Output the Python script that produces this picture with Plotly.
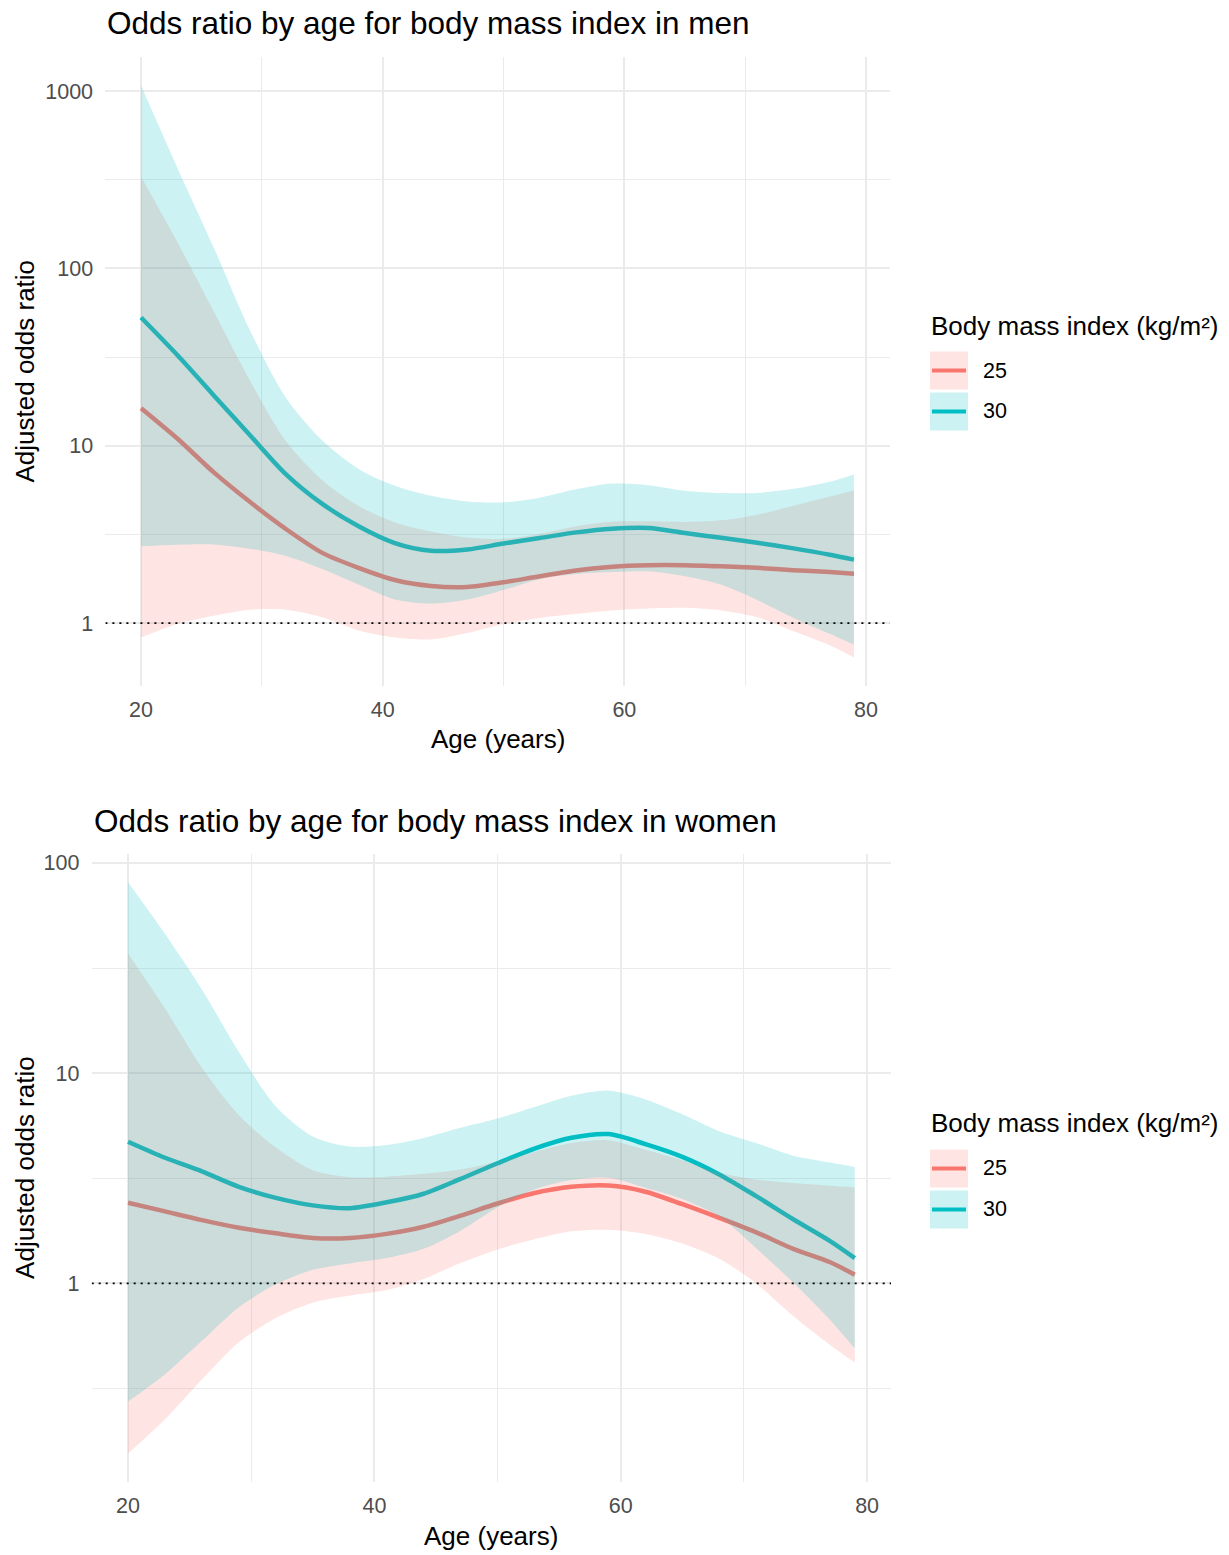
import math
import plotly.graph_objects as go

W, H = 1229, 1555
FONT = "Liberation Sans, Arial, sans-serif"

# ---- data -------------------------------------------------------------
AGES = [20, 23, 26, 29, 32, 35, 38, 41, 44, 47, 50, 53, 56, 59, 62, 65, 68, 71, 74, 77, 79]

BMI_LEVELS = ["25", "30"]

MEN_BMI25_OR = [16.3, 11.0, 7.1, 4.83, 3.39, 2.49, 2.05, 1.75, 1.62, 1.60, 1.70,
                1.84, 1.98, 2.08, 2.12, 2.12, 2.09, 2.05, 1.99, 1.94, 1.90]
MEN_BMI25_LO = [0.83, 0.99, 1.10, 1.19, 1.19, 1.08, 0.91, 0.83, 0.81, 0.88, 0.99,
                1.07, 1.13, 1.18, 1.21, 1.22, 1.18, 1.08, 0.90, 0.75, 0.64]
MEN_BMI25_HI = [329, 141, 57.5, 23.4, 10.6, 6.4, 4.58, 3.70, 3.29, 3.04, 2.99,
                3.18, 3.52, 3.73, 3.75, 3.72, 3.80, 4.09, 4.59, 5.17, 5.62]
MEN_BMI30_OR = [52.9, 32.5, 19.3, 11.5, 6.9, 4.7, 3.52, 2.83, 2.56, 2.60, 2.81,
                3.02, 3.25, 3.41, 3.44, 3.22, 3.03, 2.84, 2.64, 2.43, 2.28]
MEN_BMI30_LO = [2.72, 2.77, 2.78, 2.63, 2.39, 2.02, 1.65, 1.36, 1.29, 1.36, 1.54,
                1.77, 1.89, 1.94, 1.96, 1.84, 1.65, 1.35, 1.07, 0.87, 0.755]
MEN_BMI30_HI = [1075, 370, 132, 45, 18.6, 10.7, 7.4, 5.95, 5.22, 4.85, 4.8,
                5.1, 5.68, 6.12, 6.0, 5.58, 5.41, 5.42, 5.72, 6.27, 6.89]

WOMEN_BMI25_OR = [2.42, 2.20, 2.00, 1.84, 1.73, 1.645, 1.645, 1.72, 1.86, 2.10, 2.40,
                  2.69, 2.88, 2.92, 2.73, 2.38, 2.05, 1.75, 1.46, 1.26, 1.10]
WOMEN_BMI25_LO = [0.155, 0.226, 0.349, 0.525, 0.685, 0.81, 0.875, 0.93, 1.05, 1.25, 1.45,
                  1.62, 1.77, 1.80, 1.72, 1.55, 1.31, 1.00, 0.70, 0.51, 0.42]
WOMEN_BMI25_HI = [37.1, 20.3, 10.6, 6.3, 4.43, 3.45, 3.2, 3.22, 3.32, 3.48, 3.8,
                  4.22, 4.65, 4.8, 4.32, 3.85, 3.36, 3.12, 3.0, 2.91, 2.86]
WOMEN_BMI30_OR = [4.72, 3.96, 3.41, 2.88, 2.55, 2.35, 2.28, 2.43, 2.67, 3.14, 3.73,
                  4.38, 4.93, 5.13, 4.6, 4.0, 3.3, 2.6, 2.02, 1.59, 1.32]
WOMEN_BMI30_LO = [0.274, 0.370, 0.533, 0.77, 0.99, 1.16, 1.245, 1.32, 1.46, 1.78, 2.3,
                  2.8, 3.1, 3.18, 2.85, 2.52, 2.08, 1.47, 1.01, 0.67, 0.49]
WOMEN_BMI30_HI = [81, 46, 25, 12.6, 6.95, 5.0, 4.48, 4.55, 4.92, 5.5, 6.08,
                  6.9, 7.8, 8.26, 7.5, 6.38, 5.3, 4.65, 4.05, 3.76, 3.58]

X_TICKS = [20, 40, 60, 80]
X_MINOR = [30, 50, 70]
MEN_Y_TICKS = [1, 10, 100, 1000]
WOMEN_Y_TICKS = [1, 10, 100]

TITLE_MEN = "Odds ratio by age for body mass index in men"
TITLE_WOMEN = "Odds ratio by age for body mass index in women"
X_TITLE = "Age (years)"
Y_TITLE = "Adjusted odds ratio"
LEGEND_TITLE = "Body mass index (kg/m²)"

LINE_COLORS = {"25": "#F8766D", "30": "#00BFC4"}
FILL_COLORS = {"25": "rgba(248,118,109,0.2)", "30": "rgba(0,191,196,0.2)"}

# ---- helpers ----------------------------------------------------------
def px_x(p):
    return p / W


def px_y(p):
    return 1 - p / H


def padded_log_range(*series):
    vals = [math.log10(v) for s in series for v in s]
    lo, hi = min(vals), max(vals)
    pad = 0.05 * (hi - lo)
    return [lo - pad, hi + pad]


def padded_range(vals):
    lo, hi = min(vals), max(vals)
    pad = 0.05 * (hi - lo)
    return [lo - pad, hi + pad]


fig = go.Figure()

panels = [
    dict(xa="x", ya="y",
         series={"25": (MEN_BMI25_OR, MEN_BMI25_LO, MEN_BMI25_HI),
                 "30": (MEN_BMI30_OR, MEN_BMI30_LO, MEN_BMI30_HI)}),
    dict(xa="x2", ya="y2",
         series={"25": (WOMEN_BMI25_OR, WOMEN_BMI25_LO, WOMEN_BMI25_HI),
                 "30": (WOMEN_BMI30_OR, WOMEN_BMI30_LO, WOMEN_BMI30_HI)}),
]

x_range = padded_range(AGES)
SMOOTH = 0.8

for p in panels:
    # estimate lines first, confidence ribbons drawn over them
    for lvl in BMI_LEVELS:
        est = p["series"][lvl][0]
        fig.add_trace(go.Scatter(
            x=AGES, y=est, mode="lines", xaxis=p["xa"], yaxis=p["ya"],
            line=dict(color=LINE_COLORS[lvl], width=4.5, shape="spline", smoothing=SMOOTH),
            showlegend=False, hoverinfo="skip"))
    for lvl in BMI_LEVELS:
        _, lo, hi = p["series"][lvl]
        fig.add_trace(go.Scatter(
            x=AGES, y=lo, mode="lines", xaxis=p["xa"], yaxis=p["ya"],
            line=dict(width=0, shape="spline", smoothing=SMOOTH, color="rgba(0,0,0,0)"),
            showlegend=False, hoverinfo="skip"))
        fig.add_trace(go.Scatter(
            x=AGES, y=hi, mode="lines", xaxis=p["xa"], yaxis=p["ya"],
            fill="tonexty", fillcolor=FILL_COLORS[lvl],
            line=dict(width=0, shape="spline", smoothing=SMOOTH, color="rgba(0,0,0,0)"),
            showlegend=False, hoverinfo="skip"))
    # reference line at an odds ratio of 1
    fig.add_trace(go.Scatter(
        x=x_range, y=[1, 1], mode="lines", xaxis=p["xa"], yaxis=p["ya"],
        line=dict(color="black", width=1.6, dash="2px,5px"),
        showlegend=False, hoverinfo="skip"))

GRID = "#EBEBEB"
tick_font = dict(family=FONT, size=21.5, color="#4D4D4D")

common_x = dict(
    range=x_range, tickmode="array", tickvals=X_TICKS, ticktext=[str(t) for t in X_TICKS],
    showgrid=True, gridcolor=GRID, gridwidth=1.6, zeroline=False, showline=False,
    ticks="outside", ticklen=4, tickcolor="rgba(0,0,0,0)", tickfont=tick_font,
    minor=dict(tickmode="array", tickvals=X_MINOR, showgrid=True, gridcolor=GRID,
               gridwidth=1.2, ticks=""),
)


def y_axis(ticks, rng, domain, anchor):
    lo_dec = math.floor(rng[0])
    hi_dec = math.ceil(rng[1])
    minor_vals = [10 ** (d + 0.5) for d in range(lo_dec - 1, hi_dec + 1)]
    return dict(
        type="log", range=rng, domain=domain, anchor=anchor,
        tickmode="array", tickvals=ticks, ticktext=[str(t) for t in ticks],
        showgrid=True, gridcolor=GRID, gridwidth=1.6, zeroline=False, showline=False,
        ticks="outside", ticklen=7, tickcolor="rgba(0,0,0,0)", tickfont=tick_font,
        minor=dict(tickmode="array", tickvals=minor_vals, showgrid=True, gridcolor=GRID,
                   gridwidth=1.2, ticks=""),
    )


men_y_range = padded_log_range(MEN_BMI25_LO, MEN_BMI25_HI, MEN_BMI30_LO, MEN_BMI30_HI)
women_y_range = padded_log_range(WOMEN_BMI25_LO, WOMEN_BMI25_HI, WOMEN_BMI30_LO, WOMEN_BMI30_HI)

# panel boxes in pixels: (left, right, top, bottom)
TOP_BOX = (105.4, 889.6, 55, 685)
BOT_BOX = (91.7, 891.1, 852.7, 1482.1)

fig.update_layout(
    xaxis=dict(common_x, domain=[px_x(TOP_BOX[0]), px_x(TOP_BOX[1])], anchor="y"),
    yaxis=y_axis(MEN_Y_TICKS, men_y_range, [px_y(TOP_BOX[3]), px_y(TOP_BOX[2])], "x"),
    xaxis2=dict(common_x, domain=[px_x(BOT_BOX[0]), px_x(BOT_BOX[1])], anchor="y2"),
    yaxis2=y_axis(WOMEN_Y_TICKS, women_y_range, [px_y(BOT_BOX[3]), px_y(BOT_BOX[2])], "x2"),
)

annotations = []
shapes = []


def text(label, x, y, size, color="black", xanchor="left", angle=0):
    annotations.append(dict(
        text=label, x=px_x(x), y=px_y(y), xref="paper", yref="paper",
        xanchor=xanchor, yanchor="middle", showarrow=False, textangle=angle,
        font=dict(family=FONT, size=size, color=color)))


def panel_text(box, title, title_y, xlab_y):
    left, right, top, bottom = box
    text(title, left, title_y, 31.5)
    text(X_TITLE, (left + right) / 2, xlab_y, 26, xanchor="center")
    text(Y_TITLE, 25, (top + bottom) / 2, 26, xanchor="center", angle=-90)


def legend(title_y, key_centers):
    text(LEGEND_TITLE, 929, title_y, 26)
    for lvl, cy in zip(BMI_LEVELS, key_centers):
        shapes.append(dict(type="rect", xref="paper", yref="paper",
                           x0=px_x(930), x1=px_x(968), y0=px_y(cy + 19), y1=px_y(cy - 19),
                           fillcolor=FILL_COLORS[lvl], line=dict(width=0), layer="above"))
        shapes.append(dict(type="line", xref="paper", yref="paper",
                           x0=px_x(932), x1=px_x(966), y0=px_y(cy), y1=px_y(cy),
                           line=dict(color=LINE_COLORS[lvl], width=4), layer="above"))
        text(lvl, 981, cy, 21.5)


panel_text(TOP_BOX, TITLE_MEN, 21, 738)
panel_text(BOT_BOX, TITLE_WOMEN, 820, 1536)
legend(324, [369, 410])
legend(1122, [1168, 1209])

fig.update_layout(
    width=W, height=H, margin=dict(l=0, r=0, t=0, b=0),
    paper_bgcolor="white", plot_bgcolor="white",
    showlegend=False, annotations=annotations, shapes=shapes,
    font=dict(family=FONT),
)

fig.write_html("out.html")
